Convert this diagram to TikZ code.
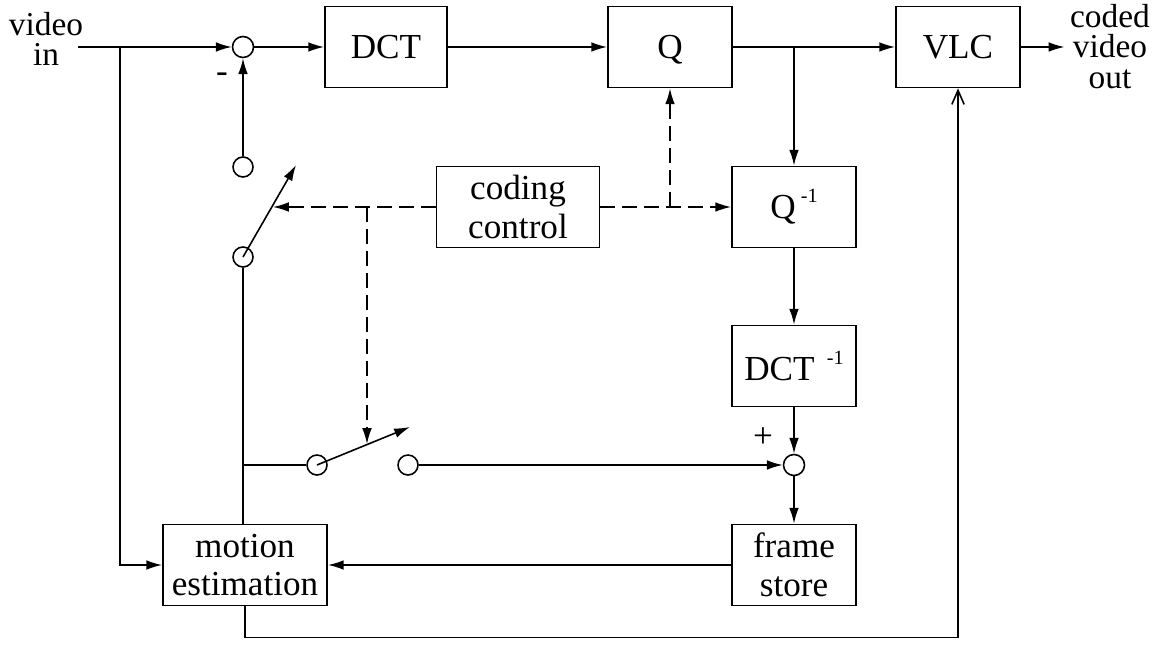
\documentclass[tikz,border=0pt]{standalone}
\usepackage{fontspec}
\setmainfont{Liberation Serif}
\usetikzlibrary{arrows.meta}
\begin{document}
\begin{tikzpicture}[
    x=0.02cm, y=-0.02cm,
    every node/.style={font=\fontsize{20}{22}\selectfont},
    block/.style={draw, line width=1pt, minimum height=1.62cm, minimum width=2.48cm, align=center, inner sep=0pt},
    junction/.style={circle, draw, line width=0.9pt, minimum size=0.42cm, inner sep=0pt},
    contact/.style={circle, draw, line width=0.9pt, minimum size=0.4cm, inner sep=0pt},
    flow/.style={line width=0.9pt, -{Latex[length=9pt,width=5.5pt]}},
    ctrl/.style={flow, dash pattern=on 8.5pt off 4pt},
    feedback/.style={line width=0.9pt, -{Straight Barb[length=8pt,width=7pt]}},
    outtext/.style={align=center, inner sep=0pt, font=\fontsize{19}{17.5}\selectfont},
    sign/.style={inner sep=0pt}
]
\useasboundingbox (0,0) rectangle (1162,645);
\node[outtext] (vin) at (46,39) {video\\in};
\node[junction] (j1) at (243,47) {};
\node[block, minimum width=2.44cm] (dct) at (386,47) {DCT};
\node[block, text depth=0pt] (q) at (670,47) {Q};
\node[block] (vlc) at (958,47) {VLC};
\node[outtext] (vout) at (1110,46.5) {coded\\video\\out};
\node[block, minimum width=3.26cm] (cc) at (518,207) {coding\\control};
\node[block] (qinv) at (794,207) {Q\hspace{3pt}\raisebox{9pt}{\fontsize{11.5}{11.5}\selectfont -1}};
\node[block] (idct) at (794,366) {DCT\hspace{7pt}\raisebox{9pt}{\fontsize{11.5}{11.5}\selectfont -1}};
\node[junction] (j2) at (794,465) {};
\node[block] (fs) at (794,565) {frame\\store};
\node[block, minimum width=3.28cm] (me) at (245,565) {motion\\estimation};
\node[contact] (s1a) at (243,167) {};
\node[contact] (s1b) at (243,257) {};
\node[contact] (s2a) at (317,465) {};
\node[contact] (s2b) at (408,465) {};
\node[sign] (minus) at (222,78) {-};
\node[sign] (plus) at (763,438) {+};
\coordinate (vstart) at (78,47);
\coordinate (vsplit) at (120,47);
\coordinate (s1tip) at (296,165);
\coordinate (s2tip) at (410,427);
\coordinate (s1mid) at (273,207);
\coordinate (s2mid) at (367,444);

\draw[flow] (vstart) -- (j1);
\draw[flow] (vsplit) |- (me.west);
\draw[flow] (j1) -- (dct);
\draw[flow] (dct) -- (q);
\draw[flow] (q) -- (vlc);
\draw[flow] (vlc) -- ([xshift=-3pt]vout.west |- vlc.east);
\draw[flow] (q.east -| qinv) -- (qinv);
\draw[flow] (qinv) -- (idct);
\draw[flow] (idct) -- (j2);
\draw[flow] (j2) -- (fs);
\draw[flow] (fs) -- (me);
\draw[flow] (s1a) -- (j1);
\draw[line width=0.9pt] (s1b) -- (s1b |- me.north);
\draw[flow] (s1b.center) -- (s1tip);
\draw[line width=0.9pt] (s1b |- s2a) -- (s2a);
\draw[flow] (s2a.center) -- (s2tip);
\draw[flow] (s2b) -- (j2);
\draw[feedback] (me.south) -- ++(0,31) -| (vlc.south);
\draw[ctrl] (cc) -- (s1mid);
\draw[ctrl] (cc) -- (qinv);
\draw[ctrl] (q.south |- cc) -- (q);
\draw[ctrl] (s2mid |- cc) -- (s2mid);
\end{tikzpicture}
\end{document}
